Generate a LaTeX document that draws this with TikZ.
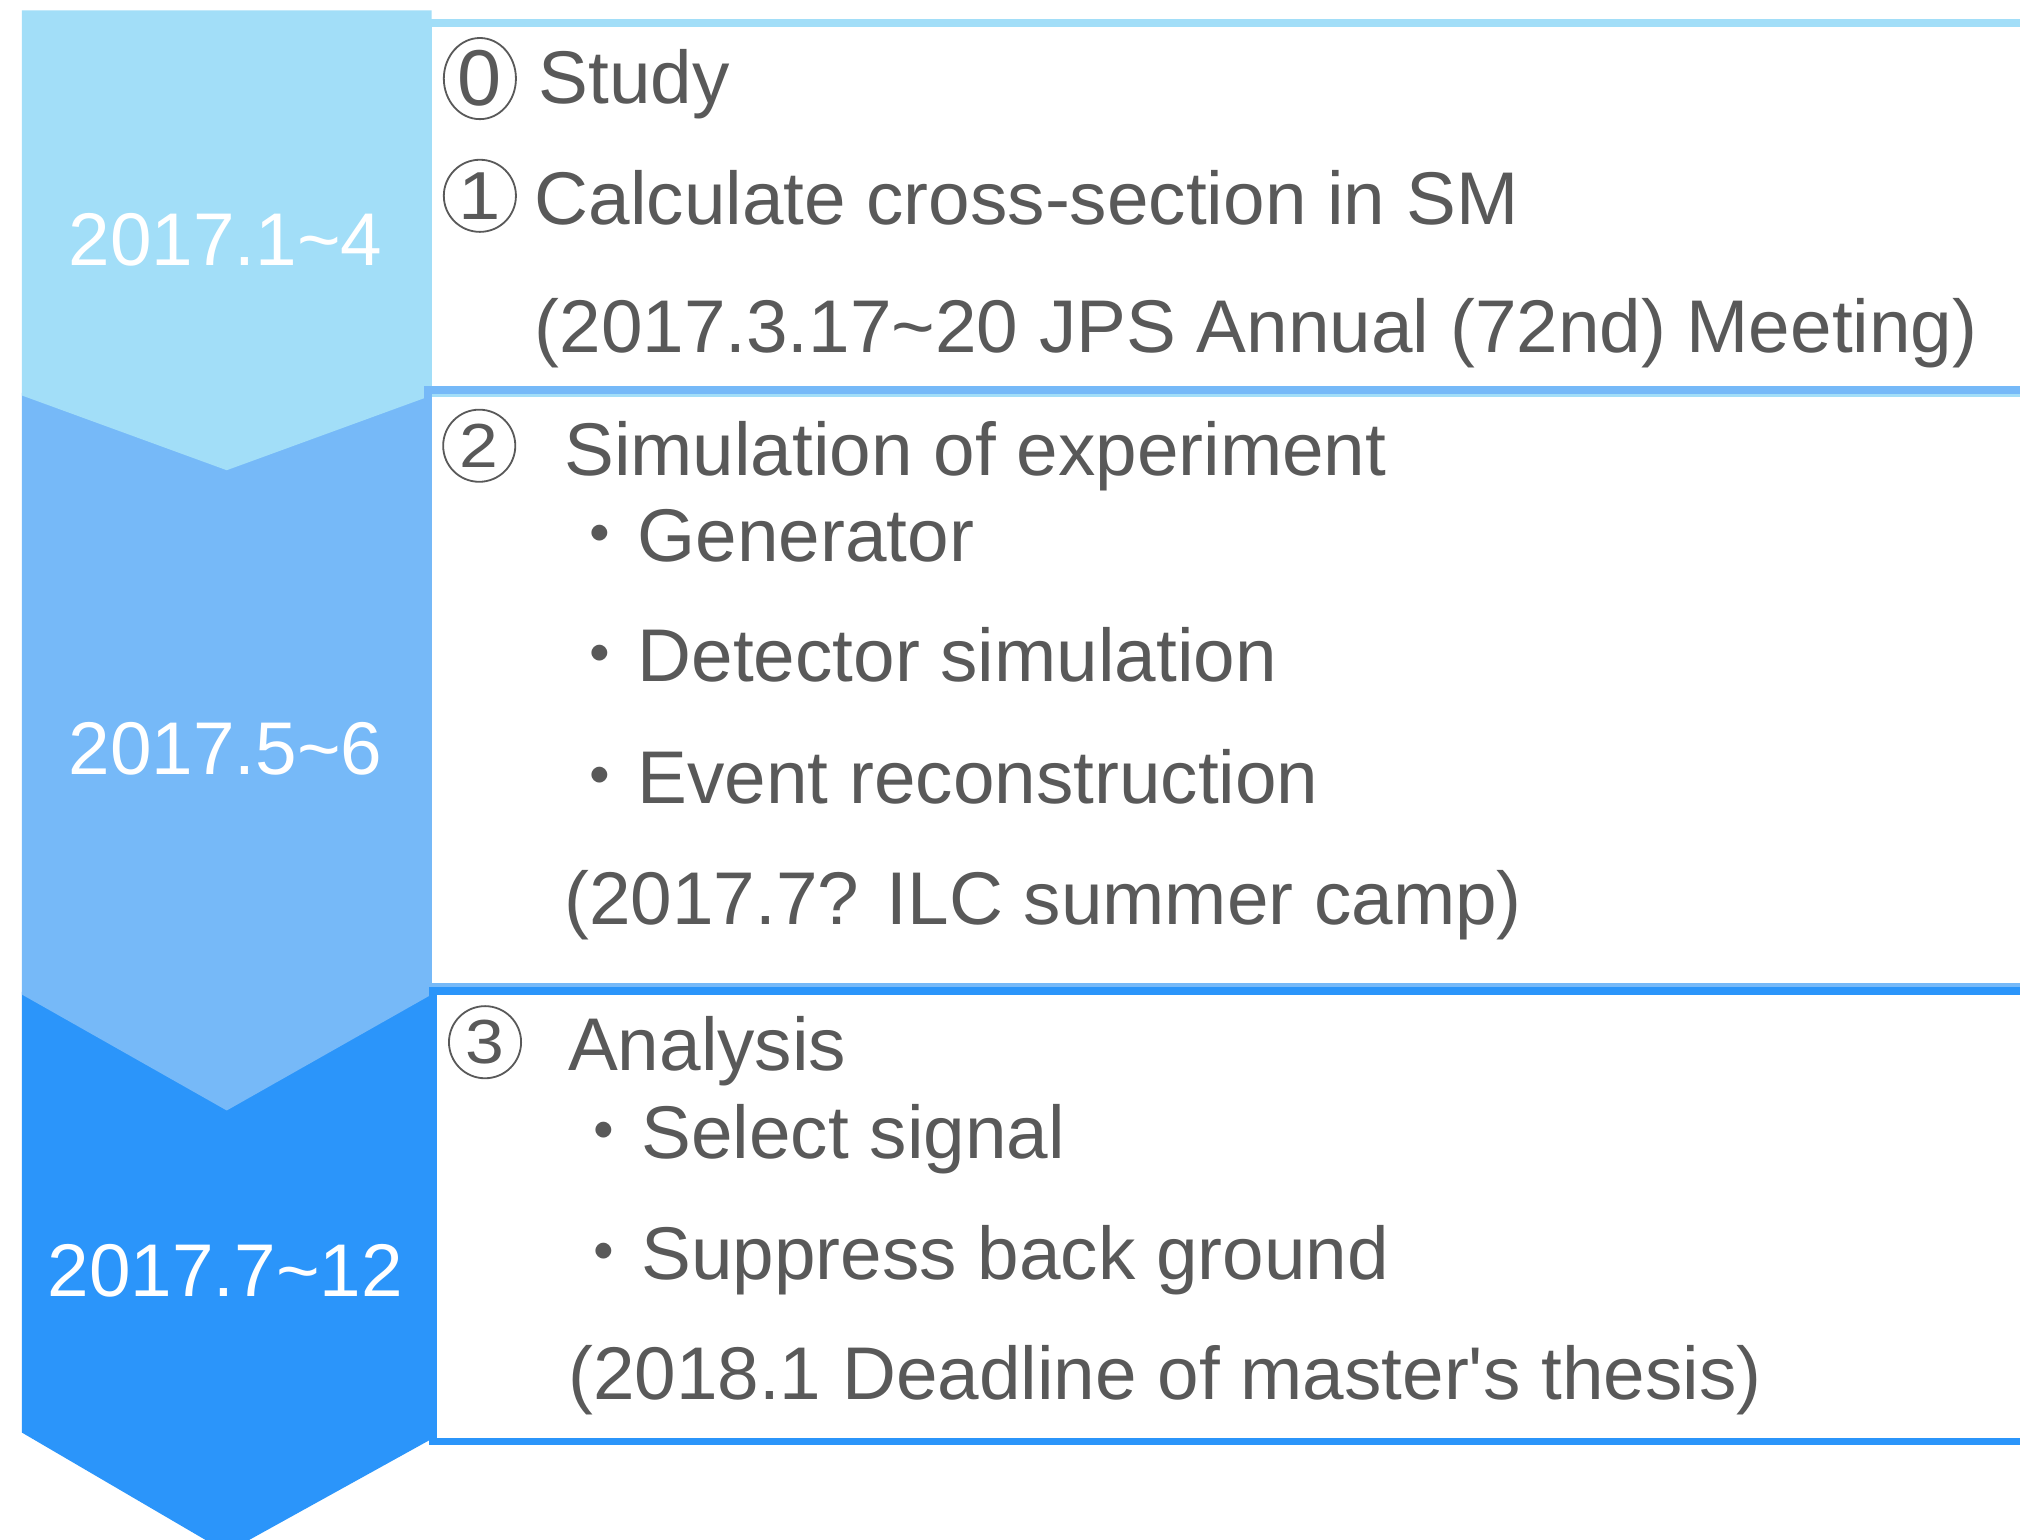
\documentclass[tikz,border=0pt]{standalone}
\usepackage{fontspec}
\setmainfont{Liberation Sans}
\newfontfamily\cjk{Noto Sans CJK JP}
\newfontfamily\circfont[FakeStretch=1.12]{Liberation Sans}
\usetikzlibrary{shapes.geometric}
\definecolor{phaseA}{HTML}{A2DEF8}
\definecolor{phaseB}{HTML}{76B9F8}
\definecolor{phaseC}{HTML}{2B95FA}
\definecolor{ink}{HTML}{595959}
\begin{document}
\begin{tikzpicture}[x=0.02cm,y=-0.02cm,
  every node/.style={inner sep=0pt,outer sep=0pt},
  txt/.style={anchor=base west,text=ink,font=\fontsize{33}{39}\selectfont},
  datelabel/.style={anchor=base,text=white,font=\fontsize{33}{39}\selectfont},
  frame/.style={line width=0.12cm},
  num/.style={ellipse,draw=ink,line width=0.8pt,minimum width=1.12cm,minimum height=1.12cm,
    text=ink,font=\circfont\fontsize{27.5}{30}\selectfont},
  numone/.style={num,font=\circfont\fontsize{30}{30}\selectfont},
  numzero/.style={num,minimum height=1.26cm,font=\fontsize{35}{36}\selectfont}]
\useasboundingbox (0,0) rectangle (1568,1195);
\fill[white] (0,0) rectangle (1568,1195);
\begin{scope}
\clip (0,0) rectangle (1568,1195);
% chevrons of the timeline, drawn from the last phase upwards
\fill[phaseC] (17,770) -- (335,770) -- (335,1117) -- (176,1205) -- (17,1112) -- cycle;
\fill[phaseB] (17,305) -- (335,305) -- (335,772) -- (176,862) -- (17,772) -- cycle;
\fill[phaseA] (17,8) -- (335,8) -- (335,307) -- (176,365) -- (17,307) -- cycle;
% frames of the three phases
\draw[frame,draw=phaseA] (332,18) rectangle (1620,305);
\draw[frame,draw=phaseB] (332,303) rectangle (1620,766);
\draw[frame,draw=phaseC] (336,769) rectangle (1620,1119);
\end{scope}
% period labels
\node[datelabel] (d1) at (175,206) {2017.1\textasciitilde4};
\node[datelabel] (d2) at (175,601) {2017.5\textasciitilde6};
\node[datelabel] (d3) at (175,1006) {2017.7\textasciitilde12};
% phase 1
\node[numzero] (n0) at (372.5,61) {0};
\node[txt] (study) at (418,80) {Study};
\node[numone] (n1) at (372.5,152) {1};
\node[txt] (calc) at (415,174) {Calculate cross-section in SM};
\node[txt] (jps) at (415,274) {(2017.3.17\textasciitilde20 JPS Annual (72nd) Meeting)};
% phase 2
\node[num] (n2) at (372,346) {2};
\node[txt] (sim) at (438,369) {Simulation of experiment};
\node[txt] (gen) at (437,436) {{\cjk ・}Generator};
\node[txt] (det) at (437,529) {{\cjk ・}Detector simulation};
\node[txt] (evt) at (437,624) {{\cjk ・}Event reconstruction};
\node[txt] (ilc) at (438,718) {(2017.7? ILC summer camp)};
% phase 3
\node[num] (n3) at (376.5,809) {3};
\node[txt] (ana) at (441,831) {Analysis};
\node[txt] (sel) at (440,899) {{\cjk ・}Select signal};
\node[txt] (sup) at (440,993) {{\cjk ・}Suppress back ground};
\node[txt] (thesis) at (441,1086) {(2018.1 Deadline of master\textquotesingle s thesis)};
\end{tikzpicture}
\end{document}
